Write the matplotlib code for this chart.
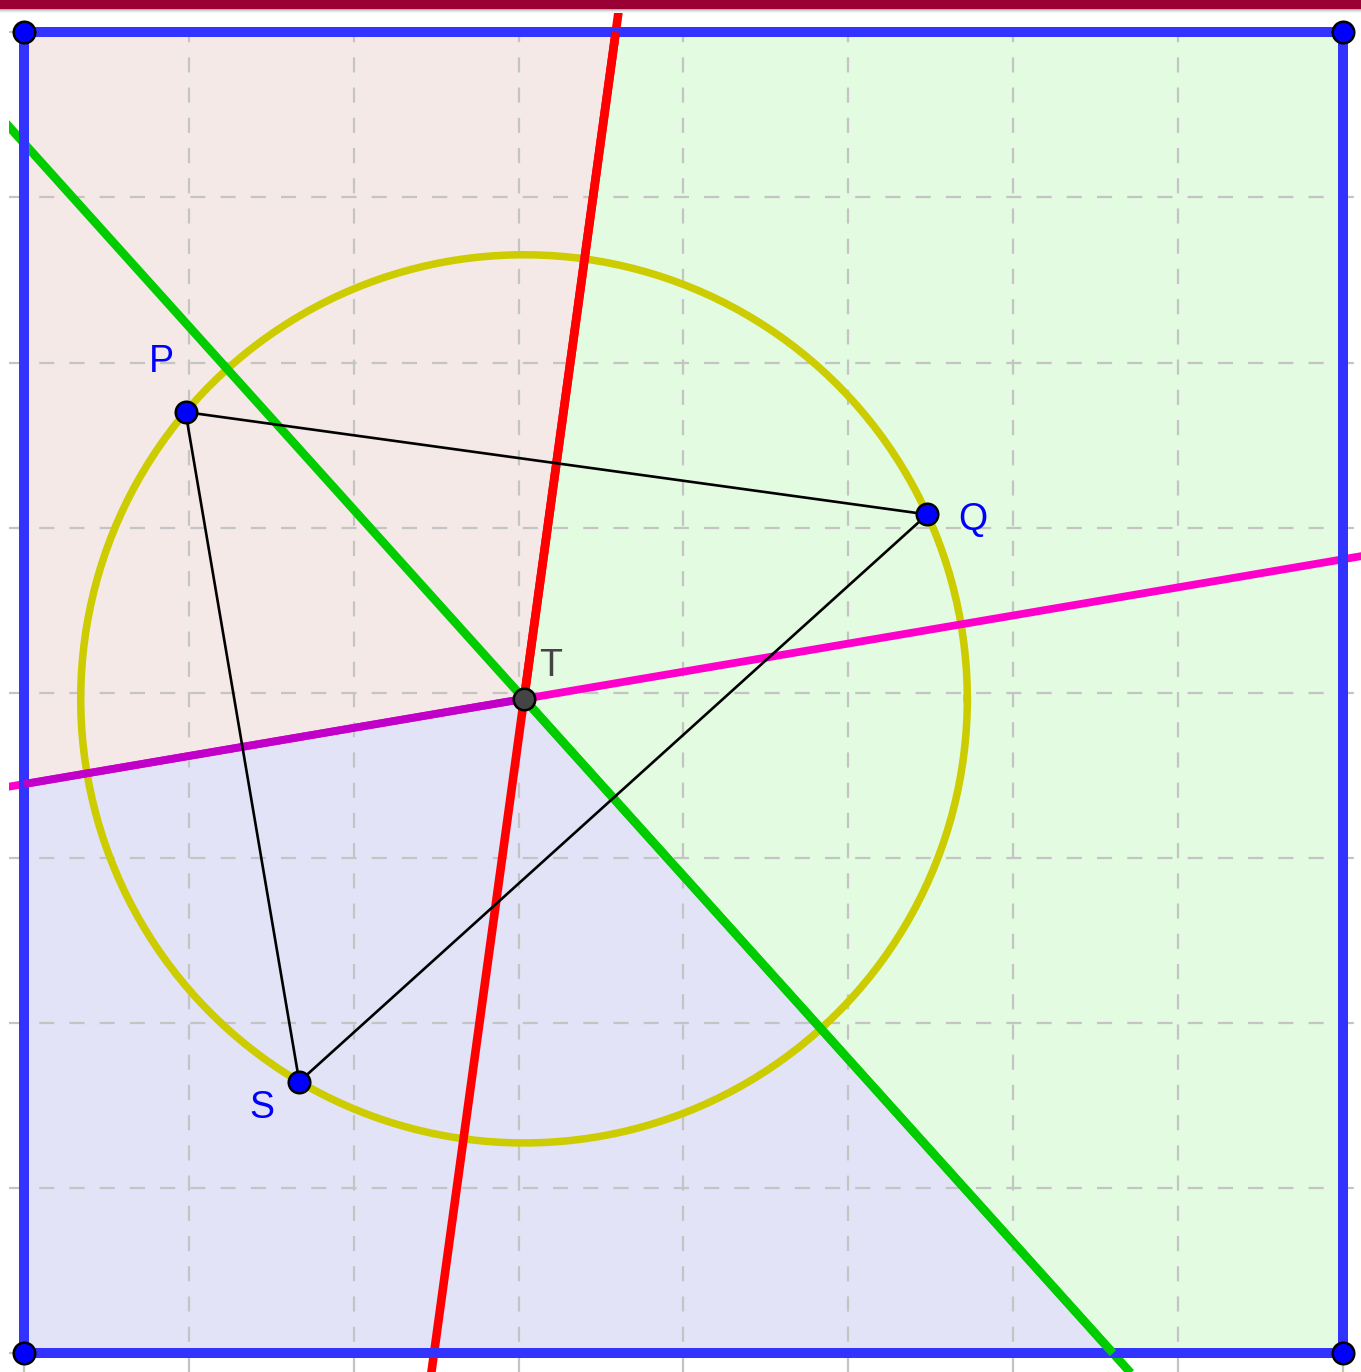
import matplotlib
matplotlib.use("Agg")
import matplotlib.pyplot as plt
import numpy as np
from matplotlib.patches import Polygon, Rectangle

# site points (grid units, square is 0..8)
names = ["P", "Q", "S"]
site_x = [0.98, 5.48, 1.67]
site_y = [5.70, 5.08, 1.645]
region_colors = ["#f4e9e6", "#e3fbe0", "#e2e3f7"]
label_offsets = [(-17, 36), (33, -4), (-27, -19)]  # points
square_size = 8
grid_ticks = list(range(0, 9))

pts = np.column_stack([site_x, site_y])


def circumcenter(a, b, c):
    d = 2 * (a[0] * (b[1] - c[1]) + b[0] * (c[1] - a[1]) + c[0] * (a[1] - b[1]))
    ux = ((a @ a) * (b[1] - c[1]) + (b @ b) * (c[1] - a[1]) + (c @ c) * (a[1] - b[1])) / d
    uy = ((a @ a) * (c[0] - b[0]) + (b @ b) * (a[0] - c[0]) + (c @ c) * (b[0] - a[0])) / d
    return np.array([ux, uy])


def clip_halfplane(poly, n, c):
    # keep n.x <= c
    out = []
    for i in range(len(poly)):
        a, b = poly[i], poly[(i + 1) % len(poly)]
        fa, fb = n @ a - c, n @ b - c
        if fa <= 0:
            out.append(a)
        if fa * fb < 0:
            t = fa / (fa - fb)
            out.append(a + t * (b - a))
    return out


T = circumcenter(*pts)
R = np.linalg.norm(pts[0] - T)

W, H = 1361, 1372
fig = plt.figure(figsize=(W / 100, H / 100), dpi=100)
fig.patch.set_facecolor("white")

# pixel mapping of the canvas (left 9 px, top 10 px are outside it)
sx, sy = 164.84, 165.13
x0px, y0px = 24.0, 1353.3
xl = (9 - x0px) / sx
xr = (W - x0px) / sx
yt = (y0px - 10) / sy
yb = (y0px - H) / sy
ax = fig.add_axes([9 / W, 0, (W - 9) / W, (H - 10) / H])
ax.set_xlim(xl, xr)
ax.set_ylim(yb, yt)
ax.axis("off")

# voronoi regions inside the square
square = [np.array(p, float) for p in [(0, 0), (square_size, 0), (square_size, square_size), (0, square_size)]]
for i in range(3):
    poly = square
    for j in range(3):
        if i == j:
            continue
        n = 2 * (pts[j] - pts[i])
        c = pts[j] @ pts[j] - pts[i] @ pts[i]
        poly = clip_halfplane(poly, n, c)
    ax.add_patch(Polygon(np.array(poly), closed=True, facecolor=region_colors[i], edgecolor="none", zorder=1))

# dashed grid
for g in grid_ticks:
    ax.axvline(g, color="#c4c4c4", lw=1.6, dashes=(6.8, 6.8), zorder=2)
    ax.axhline(g, color="#c4c4c4", lw=1.6, dashes=(6.8, 6.8), zorder=2)

# circumcircle
th = np.linspace(0, 2 * np.pi, 400)
ax.plot(T[0] + R * np.cos(th), T[1] + R * np.sin(th), color="#cccc00", lw=5.4, zorder=3)

# perpendicular bisectors: (i, j, third, colour, edge colour, width)
bisectors = [(0, 1, 2, "#ff0000", "#ff0000", 6.2),
             (1, 2, 0, "#00cc00", "#00cc00", 6.2),
             (0, 2, 1, "#ff00cc", "#c000c8", 5.6)]
for i, j, k, col, ecol, lw in bisectors:
    d = pts[j] - pts[i]
    perp = np.array([-d[1], d[0]]) / np.linalg.norm(d)
    mid = (pts[i] + pts[j]) / 2
    seg = np.array([mid - 30 * perp, mid + 30 * perp])
    ax.plot(seg[:, 0], seg[:, 1], color=col, lw=lw, solid_capstyle="butt", zorder=4)
    # voronoi edge ray from T to the square boundary
    if perp @ (pts[i] - pts[k]) < 0:
        perp = -perp
    ts = []
    for a in range(2):
        if abs(perp[a]) > 1e-12:
            for b in (0, square_size):
                t = (b - T[a]) / perp[a]
                if t > 0:
                    ts.append(t)
    end = T + min(ts) * perp
    ax.plot([T[0], end[0]], [T[1], end[1]], color=ecol, lw=lw, solid_capstyle="butt", zorder=6)

# square border
sq = np.array(square + [square[0]])
ax.plot(sq[:, 0], sq[:, 1], color="#3333ff", lw=7.2, solid_joinstyle="miter", zorder=5)

# triangle
tri = np.vstack([pts, pts[:1]])
ax.plot(tri[:, 0], tri[:, 1], color="black", lw=1.9, zorder=7)

# points
ax.plot(sq[:4, 0], sq[:4, 1], "o", ms=15.5, mfc="#0000ff", mec="black", mew=1.8, zorder=8, clip_on=False)
ax.plot(pts[:, 0], pts[:, 1], "o", ms=15.5, mfc="#0000ff", mec="black", mew=1.8, zorder=8)
ax.plot([T[0]], [T[1]], "o", ms=15.5, mfc="#444444", mec="black", mew=1.8, zorder=8)

for nm, p, off in zip(names, pts, label_offsets):
    ax.annotate(nm, p, xytext=off, textcoords="offset points", ha="center", va="center",
                fontsize=27, color="#0000ff", family="Liberation Sans", zorder=9)
ax.annotate("T", T, xytext=(19, 24), textcoords="offset points", ha="center", va="center",
            fontsize=27, color="#444444", family="Liberation Sans", zorder=9)

# top bar
fig.patches.append(Rectangle((0, 1 - 9 / H), 1, 9 / H, transform=fig.transFigure,
                             facecolor="#9b0034", edgecolor="none", zorder=10))
for k, c in enumerate(["#b0b0b0", "#d0d0d0", "#e8e8e8", "#f6f6f6"]):
    fig.patches.append(Rectangle((0, 1 - (10 + k) / H), 1, 1 / H, transform=fig.transFigure,
                                 facecolor=c, edgecolor="none", zorder=10))

fig.savefig("out.png", dpi=100)
